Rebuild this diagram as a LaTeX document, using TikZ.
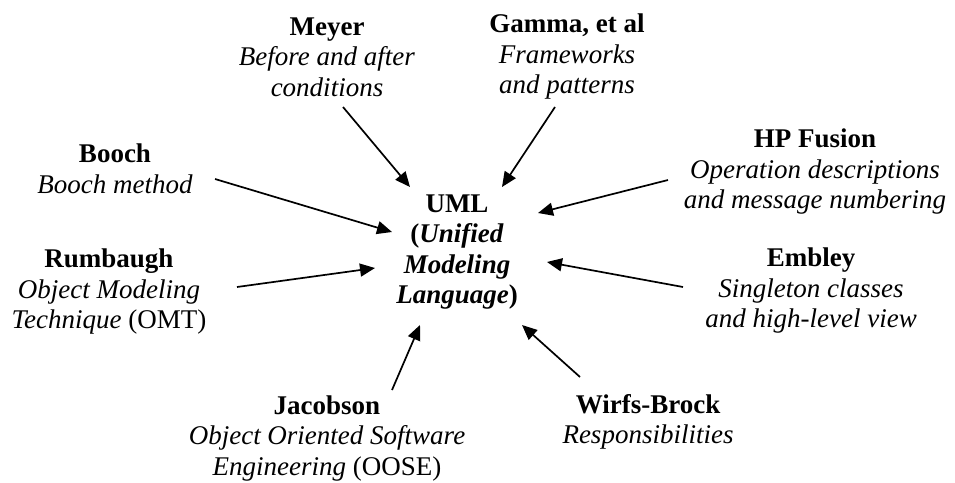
\documentclass[tikz,border=0pt]{standalone}
\usepackage{fontspec}
\setmainfont{Liberation Serif}
\usetikzlibrary{arrows.meta}
\tikzset{
  lbl/.style={align=center, inner sep=0pt, font=\fontsize{27}{30.5}\selectfont},
  arr/.style={line width=1.7pt, -{Triangle[length=15pt,width=13pt]}}
}
\begin{document}
\begin{tikzpicture}[x=1pt,y=-1pt]
\useasboundingbox (0,0) rectangle (955,482);
\node[lbl] (uml) at (457,252) {\textbf{UML}\\\textbf{(\textit{Unified}}\\\textbf{\textit{Modeling}}\\\textbf{\textit{Language})}};
\node[lbl] (meyer) at (327,57) {\textbf{Meyer}\\\textit{Before and after}\\\textit{conditions}};
\node[lbl] (gamma) at (567,57) {\textbf{Gamma, et al}\\\textit{Frameworks}\\\textit{and patterns}};
\node[lbl] (hp) at (815,172) {\textbf{HP Fusion}\\\textit{Operation descriptions}\\\textit{and message numbering}};
\node[lbl] (booch) at (115,169) {\textbf{Booch}\\\textit{Booch method}};
\node[lbl] (rum) at (109,292) {\textbf{Rumbaugh}\\\textit{Object Modeling}\\\textit{Technique} (OMT)};
\node[lbl] (emb) at (811,291) {\textbf{Embley}\\\textit{Singleton classes}\\\textit{and high-level view}};
\node[lbl] (wb) at (648,422) {\textbf{Wirfs-Brock}\\\textit{Responsibilities}};
\node[lbl] (jac) at (327,438) {\textbf{Jacobson}\\\textit{Object Oriented Software}\\\textit{Engineering} (OOSE)};
\coordinate (meyerS) at (343,107); \coordinate (meyerT) at (410,187);
\coordinate (gammaS) at (555,107); \coordinate (gammaT) at (502,187);
\coordinate (hpS) at (668,180); \coordinate (hpT) at (538,213);
\coordinate (boochS) at (215,179); \coordinate (boochT) at (392,232);
\coordinate (rumS) at (237,287); \coordinate (rumT) at (375,268);
\coordinate (embS) at (683,287); \coordinate (embT) at (547,262);
\coordinate (wbS) at (580,377); \coordinate (wbT) at (522,325);
\coordinate (jacS) at (392,390); \coordinate (jacT) at (420,325);
\draw[arr] (meyerS) -- (meyerT);
\draw[arr] (gammaS) -- (gammaT);
\draw[arr] (hpS) -- (hpT);
\draw[arr] (boochS) -- (boochT);
\draw[arr] (rumS) -- (rumT);
\draw[arr] (embS) -- (embT);
\draw[arr] (wbS) -- (wbT);
\draw[arr] (jacS) -- (jacT);
\end{tikzpicture}
\end{document}
